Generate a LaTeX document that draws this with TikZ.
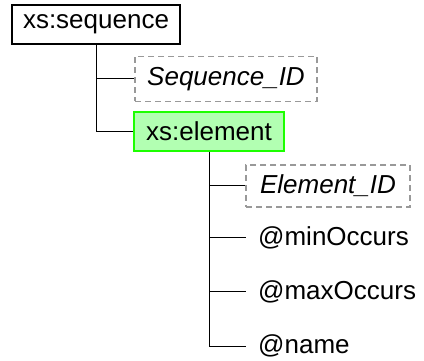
\documentclass[tikz,border=0pt]{standalone}
\usepackage{fontspec}
\setmainfont{Liberation Sans}
\begin{document}
\begin{tikzpicture}[x=1pt,y=-1pt,
  every node/.style={font=\fontsize{26}{30}\selectfont, inner sep=0pt, align=center},
  elembox/.style={draw=black, line width=1.8pt, fill=white},
  idbox/.style={draw=gray!80, line width=1.4pt, dash pattern=on 6pt off 4pt, font=\fontsize{26}{30}\selectfont\itshape},
  selbox/.style={draw=green!85!lime, line width=1.8pt, fill=green!30},
  attr/.style={anchor=west, inner xsep=12pt},
  link/.style={draw=black, line width=1pt}]
\useasboundingbox (0,0) rectangle (424,361);

% top-level sequence and its two children
\node[elembox, minimum width=168pt, minimum height=39pt] (seq) at (96,24.5) {xs:sequence};
\node[idbox, minimum width=182pt, minimum height=45pt] (sid) at (226,79) {Sequence\_ID};
\node[selbox, minimum width=150pt, minimum height=39pt] (elem) at (209,131.5) {xs:element};

% children of the element
\node[idbox, minimum width=164pt, minimum height=42pt] (eid) at (328,186) {Element\_ID};
\node[attr] (min) at (246,238) {@minOccurs};
\node[attr] (max) at (246,292) {@maxOccurs};
\node[attr] (nam) at (246,346) {@name};

% tree connectors
\draw[link] (seq.south) |- (sid.west);
\draw[link] (seq.south) |- (elem.west);
\draw[link] (elem.south) |- (eid.west);
\draw[link] (elem.south) |- (min.west);
\draw[link] (elem.south) |- (max.west);
\draw[link] (elem.south) |- (nam.west);
\end{tikzpicture}
\end{document}
